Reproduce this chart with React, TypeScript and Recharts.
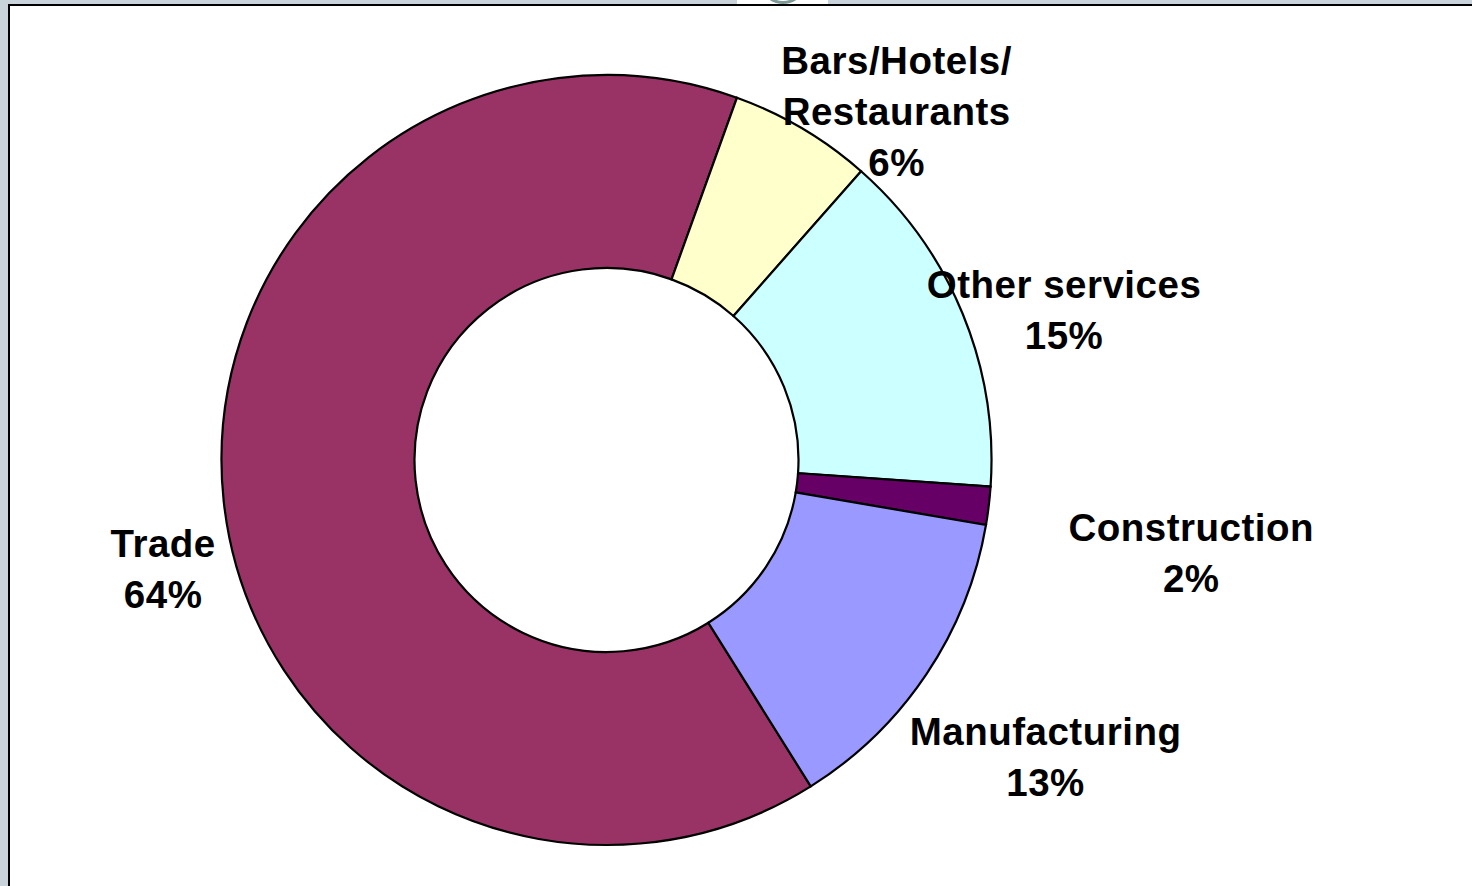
import { PieChart, Pie, Cell } from 'recharts'

// sector shares (percent)
const categories = ['Trade', 'Bars/Hotels/Restaurants', 'Other services', 'Construction', 'Manufacturing']
const shares = [64.4, 6.0, 14.6, 1.6, 13.4]
const colors = ['#993366', '#FFFFCC', '#CCFFFF', '#660066', '#9999FF']
// how each label is broken into lines (before the percent line)
const labelLines: Record<string, string[]> = {
  'Trade': ['Trade'],
  'Bars/Hotels/Restaurants': ['Bars/Hotels/', 'Restaurants'],
  'Other services': ['Other services'],
  'Construction': ['Construction'],
  'Manufacturing': ['Manufacturing']
}

const data = categories.map((name, i) => ({ name, value: shares[i] }))

// Excel let these labels be dragged around; nudge from the default radial spot
const labelNudge: Record<string, [number, number]> = {
  'Trade': [14, 60],
  'Bars/Hotels/Restaurants': [56, 47],
  'Other services': [32, 25],
  'Construction': [128, 38],
  'Manufacturing': [57, 41]
}

const RADIAN = Math.PI / 180
const FONT_SIZE = 38.5
const LINE_H = 51

const renderLabel = (props: any) => {
  const { cx, cy, midAngle, outerRadius, name, percent } = props
  const r = outerRadius + 75
  const [nx, ny] = labelNudge[name] || [0, 0]
  const x = cx + r * Math.cos(-midAngle * RADIAN) + nx
  const y = cy + r * Math.sin(-midAngle * RADIAN) + ny
  const lines = [...(labelLines[name] || [name]), `${Math.round(percent * 100)}%`]
  const firstBaseline = y - ((lines.length - 1) * LINE_H) / 2 + 38 * 0.358
  return (
    <text
      x={x}
      y={firstBaseline}
      textAnchor="middle"
      fill="#000"
      fontSize={FONT_SIZE}
      fontWeight="bold"
      letterSpacing={0.5}
      fontFamily="'Liberation Sans', Arial, sans-serif"
    >
      {lines.map((line, i) => (
        <tspan key={i} x={x} dy={i === 0 ? 0 : LINE_H}>
          {line}
        </tspan>
      ))}
    </text>
  )
}

export default function App() {
  return (
    <div
      style={{
        position: 'fixed',
        left: 0,
        top: 0,
        width: 1472,
        height: 886,
        overflow: 'hidden',
        background: '#c8d4da'
      }}
    >
      {/* slide frame */}
      <div
        style={{
          position: 'absolute',
          left: 8,
          top: 4,
          width: 1500,
          height: 900,
          background: '#fff',
          borderLeft: '2px solid #000',
          borderTop: '2px solid #000'
        }}
      />
      {/* bit of a logo peeking over the frame */}
      <div style={{ position: 'absolute', left: 737, top: 0, width: 91, height: 4, background: '#fff', overflow: 'hidden' }}>
        <div
          style={{
            position: 'absolute',
            left: 22,
            top: -44,
            width: 42,
            height: 42,
            borderRadius: '50%',
            border: '3px solid #7d9a97'
          }}
        />
      </div>
      <div style={{ position: 'absolute', left: 0, top: 0 }}>
        <PieChart width={1472} height={886} margin={{ top: 0, right: 0, bottom: 0, left: 0 }}>
          <Pie
            data={data}
            dataKey="value"
            nameKey="name"
            cx={606.5}
            cy={460}
            innerRadius={192}
            outerRadius={385}
            startAngle={302.04}
            endAngle={-57.96}
            stroke="#000"
            strokeWidth={2.2}
            label={renderLabel}
            labelLine={false}
            isAnimationActive={false}
          >
            {data.map((d, i) => (
              <Cell key={d.name} fill={colors[i]} />
            ))}
          </Pie>
        </PieChart>
      </div>
    </div>
  )
}
